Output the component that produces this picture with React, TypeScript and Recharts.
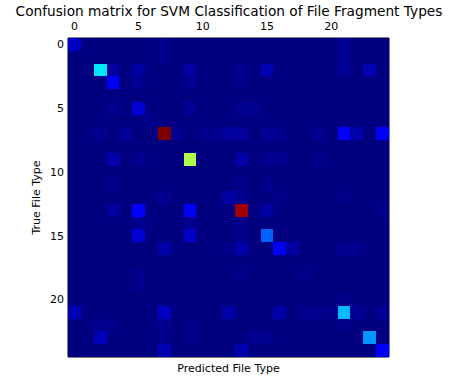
import { ScatterChart, Scatter, XAxis, YAxis } from "recharts";

// file type indices (0..24) on both axes
const fileTypes = Array.from({ length: 25 }, (_, i) => i);
const tickValues = [0, 5, 10, 15, 20];

// [true type, predicted type, share] -- everything else is ~0
const cells: [number, number, number][] = [
  [0, 0, 0.06], [0, 7, 0.01], [1, 7, 0.01], [0, 21, 0.015], [1, 21, 0.015],
  [2, 2, 0.35], [2, 3, 0.03], [2, 5, 0.03], [2, 9, 0.03], [2, 13, 0.015],
  [2, 15, 0.045], [2, 21, 0.02], [2, 23, 0.045],
  [3, 3, 0.1], [3, 5, 0.015], [3, 9, 0.015], [3, 13, 0.01],
  [5, 3, 0.015], [5, 5, 0.07], [5, 9, 0.02], [5, 13, 0.015], [5, 14, 0.015],
  [6, 6, 0.01],
  [7, 2, 0.015], [7, 4, 0.02], [7, 7, 1.0], [7, 8, 0.015], [7, 10, 0.01],
  [7, 11, 0.01], [7, 12, 0.025], [7, 13, 0.025], [7, 15, 0.02], [7, 16, 0.015],
  [7, 19, 0.015], [7, 21, 0.12], [7, 22, 0.04], [7, 24, 0.11],
  [9, 3, 0.04], [9, 5, 0.015], [9, 9, 0.56], [9, 13, 0.035], [9, 15, 0.015],
  [9, 16, 0.015], [9, 19, 0.01],
  [11, 3, 0.01], [11, 13, 0.01], [11, 15, 0.01],
  [12, 7, 0.015], [12, 12, 0.03], [12, 13, 0.015], [12, 16, 0.01], [12, 21, 0.01],
  [13, 3, 0.03], [13, 5, 0.11], [13, 9, 0.1], [13, 13, 0.97], [13, 15, 0.03],
  [13, 24, 0.01],
  [14, 5, 0.015], [14, 9, 0.015], [14, 13, 0.01],
  [15, 5, 0.07], [15, 9, 0.06], [15, 13, 0.01], [15, 15, 0.22],
  [16, 7, 0.035], [16, 12, 0.01], [16, 13, 0.035], [16, 16, 0.1], [16, 17, 0.03],
  [16, 21, 0.015], [16, 22, 0.015],
  [18, 5, 0.01], [18, 13, 0.01], [18, 18, 0.01], [19, 5, 0.01],
  [20, 21, 0.01],
  [21, 0, 0.045], [21, 7, 0.06], [21, 12, 0.035], [21, 16, 0.035], [21, 18, 0.01],
  [21, 19, 0.015], [21, 20, 0.01], [21, 21, 0.31], [21, 22, 0.02], [21, 24, 0.02],
  [22, 2, 0.015], [22, 3, 0.01], [22, 7, 0.015], [22, 9, 0.01], [22, 21, 0.01],
  [23, 2, 0.05], [23, 7, 0.01], [23, 9, 0.01], [23, 14, 0.015], [23, 15, 0.015],
  [23, 23, 0.27],
  [24, 7, 0.045], [24, 13, 0.04], [24, 24, 0.12],
];

const W = 450;
const H = 377;
const TOP = 38;
const LEFT = 68;
const RIGHT = 61;
const BOTTOM = 20;
const cellW = (W - LEFT - RIGHT) / 25;
const cellH = (H - TOP - BOTTOM) / 25;
const font = "DejaVu Sans";

// matplotlib "jet"
function interp(pts: number[][], v: number) {
  for (let i = 1; i < pts.length; i++) {
    if (v <= pts[i][0]) {
      const [x0, y0] = pts[i - 1];
      const [x1, y1] = pts[i];
      return y0 + ((v - x0) / (x1 - x0)) * (y1 - y0);
    }
  }
  return pts[pts.length - 1][1];
}
function jet(v: number) {
  const r = interp([[0, 0], [0.35, 0], [0.66, 1], [0.89, 1], [1, 0.5]], v);
  const g = interp([[0, 0], [0.125, 0], [0.375, 1], [0.64, 1], [0.91, 0], [1, 0]], v);
  const b = interp([[0, 0.5], [0.11, 1], [0.34, 1], [0.65, 0], [1, 0]], v);
  return `rgb(${Math.round(r * 255)},${Math.round(g * 255)},${Math.round(b * 255)})`;
}

const lookup = new Map(cells.map(([t, p, v]) => [`${t}-${p}`, v]));
const grid = fileTypes.flatMap((t) =>
  fileTypes.map((p) => ({ truth: t, pred: p, value: lookup.get(`${t}-${p}`) ?? 0 }))
);

const Cell = (props: any) => {
  const { cx, cy, payload } = props;
  const x0 = Math.round(cx - cellW / 2);
  const y0 = Math.round(cy - cellH / 2);
  const x1 = Math.round(cx + cellW / 2);
  const y1 = Math.round(cy + cellH / 2);
  return (
    <rect
      x={x0}
      y={y0}
      width={x1 - x0}
      height={y1 - y0}
      fill={jet(payload.value)}
      shapeRendering="crispEdges"
    />
  );
};

const tickStyle = { fontFamily: font, fontSize: 11, fill: "#000" };

export default function App() {
  return (
    <div style={{ position: "absolute", left: 0, top: 0, width: W, height: H, fontFamily: font }}>
      <div
        style={{
          position: "absolute",
          top: 3,
          left: 0,
          width: 458,
          textAlign: "center",
          fontSize: 13.7,
          color: "#000",
        }}
      >
        Confusion matrix for SVM Classification of File Fragment Types
      </div>
      <ScatterChart width={W} height={H} margin={{ top: 0, right: 0, bottom: 0, left: 0 }}>
        <Scatter
          data={grid}
          xAxisId="top"
          yAxisId="left"
          shape={<Cell />}
          isAnimationActive={false}
        />
        <XAxis
          xAxisId="top"
          orientation="top"
          type="number"
          dataKey="pred"
          domain={[-0.5, 24.5]}
          ticks={tickValues}
          height={TOP}
          tickSize={-4}
          tickMargin={12}
          tick={tickStyle}
          axisLine={{ stroke: "#000" }}
          tickLine={{ stroke: "#000" }}
          allowDataOverflow
        />
        <XAxis
          xAxisId="bottom"
          orientation="bottom"
          type="number"
          dataKey="pred"
          domain={[-0.5, 24.5]}
          ticks={tickValues}
          height={BOTTOM}
          tickSize={-4}
          tick={false}
          axisLine={{ stroke: "#000" }}
          tickLine={{ stroke: "#000" }}
          allowDataOverflow
          label={{
            content: ({ viewBox }: any) => (
              <text
                x={viewBox.x + viewBox.width / 2}
                y={viewBox.y + 15}
                textAnchor="middle"
                fontFamily={font}
                fontSize={11}
                fill="#000"
              >
                Predicted File Type
              </text>
            ),
          }}
        />
        <YAxis
          yAxisId="left"
          orientation="left"
          type="number"
          dataKey="truth"
          domain={[-0.5, 24.5]}
          reversed
          ticks={tickValues}
          width={LEFT}
          tickSize={-4}
          tickMargin={8}
          tick={tickStyle}
          axisLine={{ stroke: "#000" }}
          tickLine={{ stroke: "#000" }}
          allowDataOverflow
          label={{
            content: ({ viewBox }: any) => {
              const cy = viewBox.y + viewBox.height / 2;
              return (
                <text
                  x={40}
                  y={cy}
                  transform={`rotate(-90 40 ${cy})`}
                  textAnchor="middle"
                  fontFamily={font}
                  fontSize={11}
                  fill="#000"
                >
                  True File Type
                </text>
              );
            },
          }}
        />
        <YAxis
          yAxisId="right"
          orientation="right"
          type="number"
          dataKey="truth"
          domain={[-0.5, 24.5]}
          reversed
          ticks={tickValues}
          width={RIGHT}
          tickSize={-4}
          tick={false}
          axisLine={{ stroke: "#000" }}
          tickLine={{ stroke: "#000" }}
          allowDataOverflow
        />
      </ScatterChart>
    </div>
  );
}
